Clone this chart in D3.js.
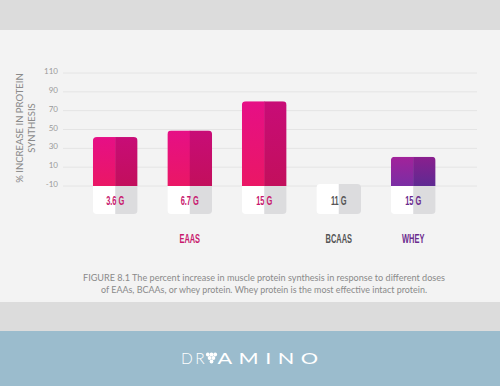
<!DOCTYPE html>
<html>
<head>
<meta charset="utf-8">
<script src="https://cdn.jsdelivr.net/npm/d3@7"></script>
<style>
  html, body { margin: 0; padding: 0; background: #f3f3f3; }
  svg { display: block; }
</style>
</head>
<body>
<svg id="chart" width="500" height="386"></svg>
<script>
// data
const doses = ['3.6 G', '6.7 G', '15 G', '11 G', '15 G'];
const groups = ['eaa', 'eaa', 'eaa', 'bcaa', 'whey'];
const increases = [42, 49, 80, -10, 21];
const yTicks = [-10, 10, 30, 50, 70, 90, 110];
const groupNames = ['EAAS', 'BCAAS', 'WHEY'];
const groupCenters = [1, 3, 4]; // index of the bar each group label sits under
const caption = [
  'FIGURE 8.1 The percent increase in muscle protein synthesis in response to different doses',
  'of EAAs, BCAAs, or whey protein. Whey protein is the most effective intact protein.'
];

const svg = d3.select('#chart');
const narrow = '"Liberation Sans", Arial, sans-serif';
const squeeze = 0.62; // no condensed font installed, so squash horizontally

const textColor = { eaa: '#c8196e', bcaa: '#555', whey: '#6b2c8e' };

// background bands
svg.append('rect').attr('x', 0).attr('y', 0).attr('width', 500).attr('height', 30).attr('fill', '#dcdcdc');
svg.append('rect').attr('x', 0).attr('y', 30).attr('width', 500).attr('height', 272).attr('fill', '#f3f3f3');
svg.append('rect').attr('x', 0).attr('y', 302).attr('width', 500).attr('height', 29).attr('fill', '#dcdcdc');
svg.append('rect').attr('x', 0).attr('y', 331).attr('width', 500).attr('height', 55).attr('fill', '#9bbccd');

// gradients
const defs = svg.append('defs');
function grad(id, top, bottom) {
  const g = defs.append('linearGradient').attr('id', id)
    .attr('x1', 0).attr('y1', 0).attr('x2', 0).attr('y2', 1);
  g.append('stop').attr('offset', '0%').attr('stop-color', top);
  g.append('stop').attr('offset', '100%').attr('stop-color', bottom);
}
grad('eaaL', '#e60f86', '#ea1765');
grad('eaaR', '#c80c77', '#c20f5c');
grad('wheyL', '#a2229a', '#7a2ea4');
grad('wheyR', '#8a1f8e', '#5e2a92');
grad('bcaaL', '#dddddd', '#dddddd');
grad('bcaaR', '#cccccc', '#cccccc');

// scales
const xScale = d3.scaleBand()
  .domain(d3.range(doses.length))
  .range([78, 450.5])
  .paddingInner(0.4)
  .paddingOuter(0.2);

const yScale = d3.scaleLinear()
  .domain([-10, 110])
  .range([186, 73]);

// gridlines
svg.append('g')
  .selectAll('line')
  .data(yTicks)
  .enter()
  .append('line')
    .attr('x1', 63)
    .attr('x2', 477)
    .attr('y1', d => yScale(d))
    .attr('y2', d => yScale(d))
    .attr('stroke', '#e4e4e4')
    .attr('stroke-width', 1);

// y axis tick labels
const yAxis = svg.append('g')
  .attr('transform', 'translate(58, -2)')
  .call(d3.axisLeft(yScale).tickValues(yTicks).tickSize(0).tickPadding(0).tickFormat(d => String(d)));
yAxis.select('.domain').remove();
yAxis.selectAll('text')
  .attr('fill', '#9a9a9a')
  .attr('font-family', 'Lato, "Noto Sans", sans-serif')
  .attr('font-size', '8px');

// y axis title
const yTitle = svg.append('text')
  .attr('transform', 'translate(20, 128) rotate(-90)')
  .attr('text-anchor', 'middle')
  .attr('font-family', 'Lato, "Noto Sans", sans-serif')
  .attr('font-size', '9.5px')
  .attr('fill', '#8a8a8a');
yTitle.append('tspan').attr('x', 0).attr('dy', 3).text('% INCREASE IN PROTEIN');
yTitle.append('tspan').attr('x', 0).attr('dy', 11.5).text('SYNTHESIS');

const bw = xScale.bandwidth();
const r = 4;
const boxH = 28;
const base = yScale(-10);

// bars: two halves with rounded top corners
function topRounded(x, y, w, h, rad) {
  if (h <= 0) return '';
  const rr = Math.min(rad, h);
  return `M${x},${y + h}V${y + rr}Q${x},${y} ${x + rr},${y}H${x + w - rr}Q${x + w},${y} ${x + w},${y + rr}V${y + h}Z`;
}
function bottomRounded(x, y, w, h, rad) {
  return `M${x},${y}H${x + w}V${y + h - rad}Q${x + w},${y + h} ${x + w - rad},${y + h}H${x + rad}Q${x},${y + h} ${x},${y + h - rad}Z`;
}
function allRounded(x, y, w, h, rad) {
  return `M${x},${y + h - rad}V${y + rad}Q${x},${y} ${x + rad},${y}H${x + w - rad}Q${x + w},${y} ${x + w},${y + rad}V${y + h - rad}Q${x + w},${y + h} ${x + w - rad},${y + h}H${x + rad}Q${x},${y + h} ${x},${y + h - rad}Z`;
}

const bars = svg.append('g')
  .selectAll('g')
  .data(increases)
  .enter()
  .append('g');

bars.each(function(d, i) {
  const g = d3.select(this);
  const x = xScale(i);
  const y = yScale(d);
  const h = base - y;
  const grp = groups[i];
  if (h > 0) {
    const clipId = 'clip' + i;
    defs.append('clipPath').attr('id', clipId)
      .append('path').attr('d', topRounded(x, y, bw, h, r));
    g.append('rect')
      .attr('x', x).attr('y', y).attr('width', bw / 2 + 0.5).attr('height', h)
      .attr('fill', `url(#${grp}L)`).attr('clip-path', `url(#${clipId})`);
    g.append('rect')
      .attr('x', x + bw / 2).attr('y', y).attr('width', bw / 2).attr('height', h)
      .attr('fill', `url(#${grp}R)`).attr('clip-path', `url(#${clipId})`);
  }
  // label box under the bar
  const boxTop = h > 0 ? base : base - 2;
  const bh = base + boxH - boxTop;
  const clipB = 'clipB' + i;
  defs.append('clipPath').attr('id', clipB)
    .append('path').attr('d', h > 0 ? bottomRounded(x, boxTop, bw, bh, r) : allRounded(x, boxTop, bw, bh, r));
  g.append('rect')
    .attr('x', x).attr('y', boxTop).attr('width', bw / 2 + 1).attr('height', bh)
    .attr('fill', '#ffffff').attr('clip-path', `url(#${clipB})`);
  g.append('rect')
    .attr('x', x + bw / 2).attr('y', boxTop).attr('width', bw / 2).attr('height', bh)
    .attr('fill', '#dcdcde').attr('clip-path', `url(#${clipB})`);
  g.append('text')
    .attr('transform', `translate(${x + bw / 2},${base + 18.5}) scale(${squeeze},1)`)
    .attr('text-anchor', 'middle')
    .attr('font-family', narrow)
    .attr('font-weight', 'bold')
    .attr('font-size', '12px')
    .attr('fill', textColor[grp])
    .text(doses[i]);
});

// group labels
svg.append('g')
  .selectAll('text')
  .data(groupNames)
  .enter()
  .append('text')
    .attr('transform', (d, i) => `translate(${xScale(groupCenters[i]) + bw / 2},243) scale(${squeeze},1)`)
    .attr('text-anchor', 'middle')
    .attr('font-family', narrow)
    .attr('font-weight', 'bold')
    .attr('font-size', '12px')
    .attr('fill', (d, i) => textColor[groups[groupCenters[i]]])
    .text(d => d);

// caption
svg.append('g')
  .selectAll('text')
  .data(caption)
  .enter()
  .append('text')
    .attr('x', 264)
    .attr('y', (d, i) => 281 + i * 11.5)
    .attr('text-anchor', 'middle')
    .attr('font-family', 'Lato, "Noto Sans", sans-serif')
    .attr('font-size', '9px')
    .attr('fill', '#8a8a8a')
    .attr('textLength', (d, i) => i === 0 ? 362 : 326)
    .attr('lengthAdjust', 'spacingAndGlyphs')
    .text(d => d);

// logo
const logo = svg.append('g').attr('transform', 'translate(0, 364)');
logo.append('text')
  .attr('x', 181)
  .attr('font-family', 'Lato, "Noto Sans", sans-serif')
  .attr('font-weight', 300)
  .attr('font-size', '15.5px')
  .attr('letter-spacing', '2.5px')
  .attr('fill', '#ffffff')
  .text('DR');
// grape mark
const grape = [[207.8, -9.5], [211.5, -9.5], [215.2, -9.5], [209.6, -6], [213.4, -6], [211.5, -2.5]];
logo.selectAll('circle')
  .data(grape)
  .enter()
  .append('circle')
    .attr('cx', d => d[0])
    .attr('cy', d => d[1])
    .attr('r', 1.9)
    .attr('fill', '#ffffff');
logo.append('text')
  .attr('transform', 'translate(217.5,0) scale(1.4,1)')
  .attr('font-family', 'Lato, "Noto Sans", sans-serif')
  .attr('font-weight', 400)
  .attr('font-size', '15.5px')
  .attr('textLength', 100.5 / 1.4)
  .attr('lengthAdjust', 'spacing')
  .attr('fill', '#ffffff')
  .text('AMINO');
</script>
</body>
</html>
